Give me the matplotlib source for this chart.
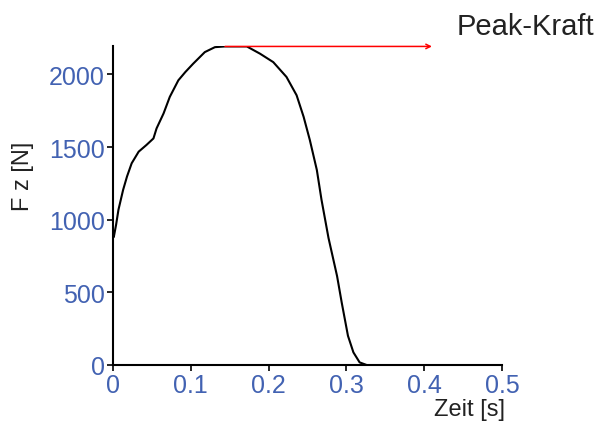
import matplotlib
matplotlib.use('Agg')
import matplotlib.pyplot as plt

# vertical ground reaction force over time
zeit = [0.000, 0.001, 0.004, 0.007, 0.013, 0.018, 0.024, 0.033, 0.043, 0.052,
        0.056, 0.065, 0.073, 0.084, 0.093, 0.103, 0.118, 0.131, 0.144, 0.172,
        0.189, 0.206, 0.223, 0.236, 0.245, 0.253, 0.262, 0.268, 0.277, 0.288,
        0.294, 0.302, 0.309, 0.317, 0.326]
kraft = [900, 880, 966, 1068, 1205, 1297, 1388, 1468, 1514, 1559,
         1628, 1731, 1845, 1959, 2016, 2073, 2153, 2187, 2192, 2192,
         2142, 2084, 1982, 1856, 1708, 1548, 1342, 1137, 874, 612,
         429, 201, 87, 18, 0]

peak_zeit = 0.144
peak_kraft = 2192
pfeil_ende = 0.41

x_ticks = [0, 0.1, 0.2, 0.3, 0.4, 0.5]
x_labels = ['0', '0.1', '0.2', '0.3', '0.4', '0.5']
y_ticks = [0, 500, 1000, 1500, 2000]

blau = '#4262b2'
schrift = ['Liberation Sans', 'DejaVu Sans']

fig = plt.figure(figsize=(5.99, 4.31), dpi=100)
ax = fig.add_axes([113 / 599, 65 / 431, 389 / 599, 319 / 431])

ax.plot(zeit, kraft, color='black', lw=1.5)
ax.annotate('', xy=(pfeil_ende, peak_kraft), xytext=(peak_zeit, peak_kraft),
            arrowprops=dict(arrowstyle='->', color='red', lw=1.1,
                            shrinkA=0, shrinkB=0, mutation_scale=8),
            annotation_clip=False)

ax.set_xlim(0, 0.5)
ax.set_ylim(0, 2195)
ax.set_xticks(x_ticks)
ax.set_xticklabels(x_labels)
ax.set_yticks(y_ticks)

for s in ['top', 'right']:
    ax.spines[s].set_visible(False)
for s in ['left', 'bottom']:
    ax.spines[s].set_linewidth(1.5)
ax.tick_params(direction='out', length=4, width=1.2, colors='black',
               labelcolor=blau, labelsize=18, pad=2)
for lab in ax.get_xticklabels() + ax.get_yticklabels():
    lab.set_family(schrift)

fig.text(470 / 599, 1 - 410 / 431, 'Zeit [s]', family=schrift, fontsize=17,
         color='#222222', ha='center', va='center')
fig.text(23 / 599, 1 - 176 / 431, 'F z [N]', family=schrift, fontsize=17,
         color='#222222', ha='center', va='center', rotation=90)
fig.text(525 / 599, 1 - 27 / 431, 'Peak-Kraft', family=schrift, fontsize=21,
         color='#222222', ha='center', va='center')

fig.savefig('out.png', dpi=100)
